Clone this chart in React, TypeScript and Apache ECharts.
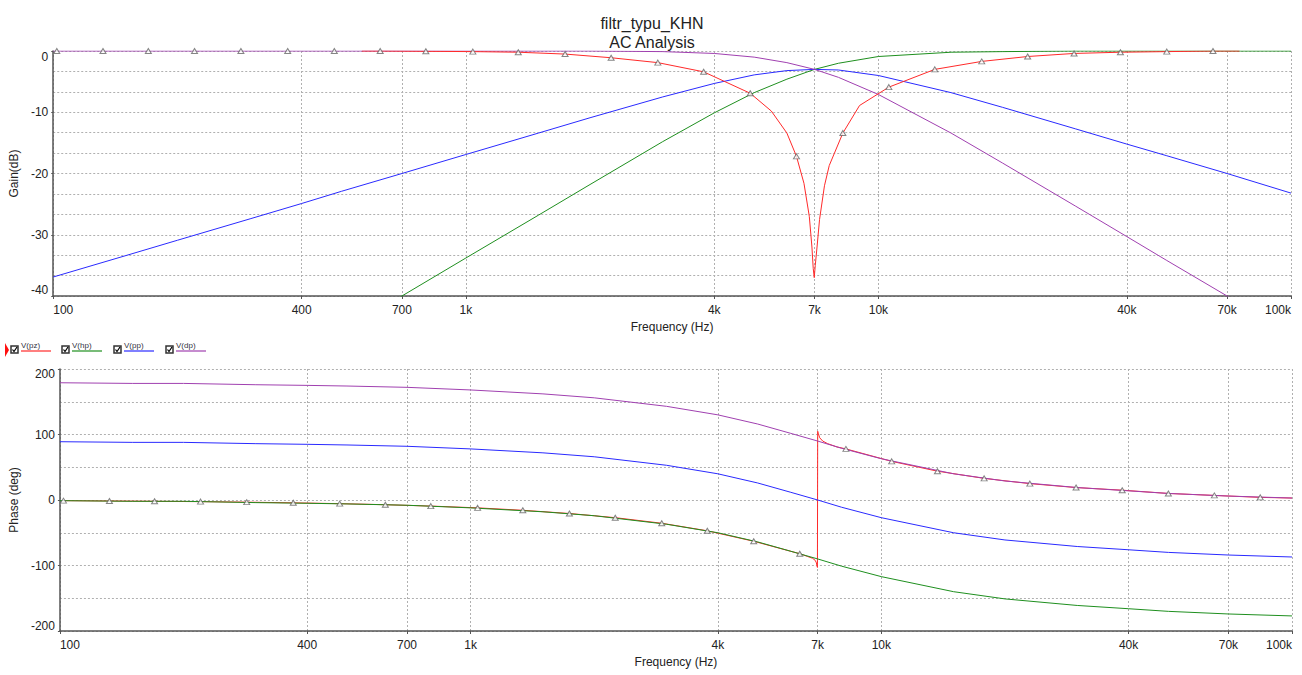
import React, { useEffect, useRef } from "react";
import * as echarts from "echarts";

// ---- data ----
const TICK_FREQ = [100, 400, 700, 1000, 4000, 7000, 10000, 40000, 70000, 100000];
const TICK_LABEL = ["100", "400", "700", "1k", "4k", "7k", "10k", "40k", "70k", "100k"];

const FREQ = [100, 150, 200, 300, 400, 500, 700, 1000, 1500, 2000, 3000, 4000, 5000, 6000, 7000, 8000, 10000, 15000, 20000, 30000, 40000, 50000, 70000, 100000];
// Gain (dB)
const GAIN_HP = [-73.8, -66.8, -61.8, -54.7, -49.7, -45.8, -40, -33.8, -26.8, -21.8, -14.8, -10.1, -6.8, -4.6, -3.0, -2.0, -0.9, -0.2, -0.1, 0, 0, 0, 0, 0];
const GAIN_PP = [-36.9, -33.4, -30.9, -27.4, -24.9, -22.9, -20, -16.9, -13.4, -10.9, -7.5, -5.3, -3.9, -3.2, -3.0, -3.1, -4.0, -6.8, -9.2, -12.7, -15.2, -17.1, -20, -23.2];
const GAIN_DP = [0, 0, 0, 0, 0, 0, 0, 0, 0, 0, -0.1, -0.4, -1.0, -1.9, -3.0, -4.3, -7.1, -13.4, -18.3, -25.3, -30.3, -34.2, -40, -46.3];
// Phase (deg)
const PHASE_HP = [-1, -2, -2, -4, -5, -6, -8, -12, -18, -24, -37, -50, -64, -78, -90, -101, -117, -140, -151, -161, -166, -170, -174, -177];
const PHASE_PP = [89, 88, 88, 86, 85, 84, 82, 78, 72, 66, 53, 40, 26, 12, 0, -11, -27, -50, -61, -71, -76, -80, -84, -87];
const PHASE_DP = [179, 178, 178, 176, 175, 174, 172, 168, 162, 156, 143, 130, 116, 102, 90, 79, 63, 40, 29, 19, 14, 10, 6, 3];

// V(pz) (notch) traces
const PZ_GAIN_F = [560, 620, 800, 1040, 1340, 1740, 2250, 2920, 3770, 4890, 5500, 6000, 6330, 6600, 6800, 6900, 6950, 6990, 7030, 7100, 7200, 7400, 7600, 8200, 9000, 10600, 13700, 17800, 23000, 29800, 38600, 50000, 64700, 75000];
const PZ_GAIN = [0, 0, -0.05, -0.1, -0.2, -0.5, -1.1, -1.9, -3.4, -6.9, -9.8, -13.4, -17.2, -21.6, -27, -32, -35.5, -37, -35, -32, -27.5, -22, -18.7, -13.4, -8.9, -5.9, -3.0, -1.7, -0.9, -0.4, -0.2, -0.1, 0, 0];
const PZ_PH_F = [102, 132, 170, 220, 285, 370, 480, 620, 800, 1040, 1340, 1740, 2250, 2920, 3770, 4890, 6330, 6600, 6800, 6900, 6950, 6975, 6990, 7000, 7020, 7080, 7200, 7400, 7800, 8200, 10600, 13700, 17800, 23000, 29800, 38600, 50000, 64700, 83700, 100000];
const PZ_PH = [-1, -1.5, -2, -2.5, -3.3, -4.3, -5.6, -7.2, -9.3, -12, -15.7, -20.6, -27, -35.5, -47, -63, -82, -86, -89, -92, -96, -101, -103, 105, 102, 95, 90, 86, 81, 78, 59, 44, 33, 25, 19, 15, 10, 7, 4, 3];

// cursor markers (triangles) on V(pz)
const MARK_F = [102, 132, 170, 220, 285, 370, 480, 620, 800, 1040, 1340, 1740, 2250, 2920, 3770, 4890, 6330, 8200, 10600, 13700, 17800, 23000, 29800, 38600, 50000, 64700, 83700];
const MARK_GAIN = [0, 0, 0, 0, 0, 0, 0, 0, -0.05, -0.1, -0.2, -0.5, -1.1, -1.9, -3.4, -6.9, -17.2, -13.4, -5.9, -3.0, -1.7, -0.9, -0.4, -0.2, -0.1, 0];
const MARK_PHASE = [-1, -1.5, -2, -2.5, -3.3, -4.3, -5.6, -7.2, -9.3, -12, -15.7, -20.6, -27, -35.5, -47, -63, -82, 78, 59, 44, 33, 25, 19, 15, 10, 7, 4];

const LEGEND = ["V(pz)", "V(hp)", "V(pp)", "V(dp)"];
const COLORS = ["#ff2a2a", "#1f8f1f", "#2a2aff", "#a040b0"];

const FONT = "'Liberation Sans', Arial, sans-serif";

const pairs = (fs: number[], vs: number[]) =>
  vs.map((v, i) => [Math.log10(fs[i]), v]);

const TICK_LOG = TICK_FREQ.map((f) => Math.log10(f));
const labelFor = (v: number) => {
  let best = 0;
  for (let i = 0; i < TICK_LOG.length; i++) {
    if (Math.abs(TICK_LOG[i] - v) < Math.abs(TICK_LOG[best] - v)) best = i;
  }
  return TICK_LABEL[best];
};

const gridLine = { color: "#b0b0b0", type: [2, 2] as any, width: 1 };

function xAxis(gridIndex: number) {
  return {
    type: "value",
    gridIndex,
    min: 2,
    max: 5,
    name: "Frequency (Hz)",
    nameLocation: "middle",
    nameGap: 25,
    nameTextStyle: { color: "#222", fontSize: 12, fontFamily: FONT },
    axisLine: { show: true, onZero: false, lineStyle: { color: "#555", width: 1.5 } },
    axisTick: { show: true, customValues: TICK_LOG, length: 3, lineStyle: { color: "#555" } },
    axisLabel: {
      customValues: TICK_LOG,
      formatter: (v: number) => labelFor(v),
      color: "#222",
      fontSize: 12,
      fontFamily: FONT,
      margin: 8,
      alignMinLabel: "left",
      alignMaxLabel: "right",
    },
    splitLine: { show: true, lineStyle: gridLine },
  };
}

function yAxis(gridIndex: number, name: string, min: number, max: number, interval: number, minorN: number, shift: number) {
  const base = { fontSize: 12, color: "#222", fontFamily: FONT };
  return {
    type: "value",
    gridIndex,
    min,
    max,
    interval,
    name,
    nameLocation: "middle",
    nameGap: 30,
    nameTextStyle: { color: "#222", fontSize: 12, fontFamily: FONT },
    axisLine: { show: true, lineStyle: { color: "#555", width: 1.5 } },
    axisTick: { show: true, length: 2, lineStyle: { color: "#555" } },
    axisLabel: {
      ...base,
      margin: 5,
      formatter: (v: number) =>
        v === max ? `{hi|${v}}` : v === min ? `{lo|${v}}` : String(v),
      rich: {
        hi: { ...base, padding: [shift, 0, 0, 0] },
        lo: { ...base, padding: [0, 0, shift, 0] },
      },
    },
    splitLine: { show: true, lineStyle: gridLine },
    minorTick: { show: false, splitNumber: minorN },
    minorSplitLine: { show: true, lineStyle: gridLine },
  };
}

function lineSeries(name: string, color: string, data: number[][], axis: number, z = 2) {
  return {
    type: "line",
    name,
    xAxisIndex: axis,
    yAxisIndex: axis,
    data,
    symbol: "none",
    lineStyle: { color, width: 1 },
    itemStyle: { color },
    clip: true,
    z,
    silent: true,
  };
}

function markerSeries(data: number[][], axis: number) {
  return {
    type: "scatter",
    xAxisIndex: axis,
    yAxisIndex: axis,
    data,
    symbol: "triangle",
    symbolSize: [6, 5],
    itemStyle: { color: "#ffffff", borderColor: "#666", borderWidth: 1 },
    z: 5,
    silent: true,
  };
}

function legendGraphic() {
  const starts = [11, 62, 114, 166];
  const els: any[] = [
    { type: "polygon", shape: { points: [[5, 343], [9, 350], [5, 357]] }, style: { fill: "#ff1010" } },
  ];
  starts.forEach((x, i) => {
    els.push({ type: "rect", shape: { x, y: 346, width: 7, height: 7 }, style: { fill: "#fff", stroke: "#333", lineWidth: 1.5 } });
    els.push({ type: "polyline", shape: { points: [[x + 1.5, 349.5], [x + 3, 351.5], [x + 6, 347]] }, style: { stroke: "#000", lineWidth: 1.2, fill: null } });
    els.push({ type: "text", x: x + 10, y: 341, style: { text: LEGEND[i], fontSize: 8, fill: "#334", fontFamily: FONT } });
    els.push({ type: "line", shape: { x1: x + 10, y1: 351, x2: x + 40, y2: 351 }, style: { stroke: COLORS[i], lineWidth: 1.2 } });
  });
  return els;
}

export default function App() {
  const ref = useRef<HTMLDivElement>(null);
  useEffect(() => {
    if (!ref.current) return;
    const chart = echarts.init(ref.current, undefined, { renderer: "svg" });
    const option: any = {
      animation: false,
      backgroundColor: "#ffffff",
      textStyle: { fontFamily: FONT },
      title: {
        text: "filtr_typu_KHN\nAC Analysis",
        left: 647,
        textAlign: "center",
        top: 9,
        textStyle: { fontSize: 16, fontWeight: "normal", color: "#222", lineHeight: 19, fontFamily: FONT },
      },
      grid: [
        { left: 47, right: 11, top: 51, height: 245 },
        { left: 48, right: 10, top: 369, height: 262 },
      ],
      xAxis: [xAxis(0), xAxis(1)],
      yAxis: [
        yAxis(0, "Gain(dB)", -40, 0, 10, 3, 12),
        yAxis(1, "Phase (deg)", -200, 200, 100, 2, 10),
      ],
      series: [
        lineSeries("V(hp)", COLORS[1], pairs(FREQ, GAIN_HP), 0),
        lineSeries("V(pp)", COLORS[2], pairs(FREQ, GAIN_PP), 0),
        lineSeries("V(dp)", COLORS[3], pairs(FREQ, GAIN_DP), 0),
        lineSeries("V(pz)", COLORS[0], pairs(PZ_GAIN_F, PZ_GAIN), 0, 3),
        markerSeries(pairs(MARK_F, MARK_GAIN), 0),
        lineSeries("V(pz)", COLORS[0], pairs(PZ_PH_F, PZ_PH), 1, 1),
        lineSeries("V(hp)", COLORS[1], pairs(FREQ, PHASE_HP), 1),
        lineSeries("V(pp)", COLORS[2], pairs(FREQ, PHASE_PP), 1),
        lineSeries("V(dp)", COLORS[3], pairs(FREQ, PHASE_DP), 1),
        markerSeries(pairs(MARK_F, MARK_PHASE), 1),
      ],
      graphic: legendGraphic(),
    };
    chart.setOption(option);
    return () => chart.dispose();
  }, []);
  return (
    <div
      ref={ref}
      style={{ position: "fixed", left: 0, top: 0, width: 1302, height: 675, background: "#fff" }}
    />
  );
}
